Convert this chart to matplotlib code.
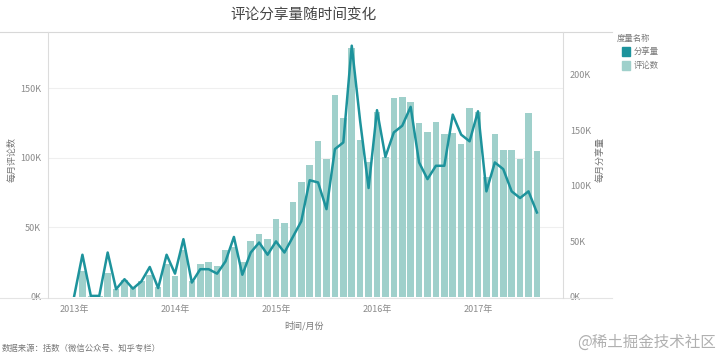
import matplotlib
matplotlib.use("Agg")
import matplotlib.pyplot as plt
from matplotlib.patches import Rectangle
from matplotlib.lines import Line2D
import numpy as np

plt.rcParams['font.family'] = ['Noto Sans CJK SC', 'DejaVu Sans']

# Monthly data, Jan 2013 .. Aug 2017 (index 0..55)
months = list(range(56))
comments_k = [0, 19, 1, 1, 17.5, 6, 12, 7, 11.5, 16, 7, 24, 15, 34,
              11.5, 24, 25, 22.5, 34, 36, 25, 40, 45, 42,
              56, 53, 68, 83, 95, 112, 99, 145, 129, 179, 113, 97,
              133, 101, 143, 144, 140, 125, 119, 126, 117, 118, 110, 136,
              133, 86, 117, 106, 106, 99, 132, 105]
shares_k = [0, 38, 1, 1, 40, 7, 16, 7.5, 14, 27, 8, 38, 21, 52,
            13, 25, 25, 21, 32, 54, 20, 40, 49, 38,
            50, 40, 54, 68, 105, 103, 79, 133, 139, 226, 158, 98,
            168, 126, 148, 154, 171, 121, 106, 118, 118, 164, 146, 140,
            167, 95, 121, 115, 95, 89, 95, 76]
year_ticks = [0, 12, 24, 36, 48]
year_labels = ['2013年', '2014年', '2015年', '2016年', '2017年']
left_ticks = [0, 50, 100, 150]
right_ticks = [0, 50, 100, 150, 200]

bar_color = '#9fd0cb'
line_color = '#1d939c'
tick_color = '#8a8a8a'

fig = plt.figure(figsize=(7.2, 3.56), dpi=100)
ax = fig.add_axes([48/720, 59/356, (563-48)/720, (297-32)/356])
ax2 = ax.twinx()

ax.bar(months, comments_k, width=0.78, color=bar_color, zorder=2)
ax2.plot(months, shares_k, color=line_color, lw=1.8, zorder=3)

ax.set_xlim(-3.09, 58.1)
ax.set_ylim(0, 190.6)
ax2.set_ylim(0, 238.3)

ax.set_yticks(left_ticks)
ax.set_yticklabels([f'{v}K' for v in left_ticks])
ax2.set_yticks(right_ticks)
ax2.set_yticklabels([f'{v}K' for v in right_ticks])
ax.set_xticks(year_ticks)
ax.set_xticklabels(year_labels)

for a in (ax, ax2):
    a.tick_params(axis='both', length=0, labelsize=6.5, labelcolor=tick_color, pad=5)
    for s in a.spines.values():
        s.set_visible(False)
ax.tick_params(axis='x', pad=6)

for v in left_ticks[1:]:
    ax.axhline(v, color='#efefef', lw=0.8, zorder=0)

ax.set_zorder(ax2.get_zorder() - 1)
ax2.patch.set_visible(False)

# frame lines
fig.add_artist(Line2D([0, 612/720], [1-32/356, 1-32/356], color='#d8d8d8', lw=0.8))
fig.add_artist(Line2D([0, 612/720], [1-298/356, 1-298/356], color='#e4e4e4', lw=0.8))
fig.add_artist(Line2D([48/720, 48/720], [1-298/356, 1-32/356], color='#dcdcdc', lw=0.8))
fig.add_artist(Line2D([563/720, 563/720], [1-298/356, 1-32/356], color='#dcdcdc', lw=0.8))

fig.text(304/720, 1-15/356, '评论分享量随时间变化', ha='center', va='center',
         fontsize=10.5, color='#444444')
fig.text(12/720, 1-160/356, '每月评论数', rotation=90, ha='center', va='center',
         fontsize=6.5, color='#777777')
fig.text(600/720, 1-160/356, '每月分享量', rotation=90, ha='center', va='center',
         fontsize=6.5, color='#777777')
fig.text(304/720, 1-326/356, '时间/月份', ha='center', va='center',
         fontsize=6.5, color='#777777')
fig.text(2/720, 1-348/356, '数据来源：括数（微信公众号、知乎专栏）', ha='left', va='center',
         fontsize=6, color='#777777')
fig.text(716/720, 1-342/356, '@稀土掘金技术社区', ha='right', va='center',
         fontsize=11.2, color='#b0b0b0')

# legend
fig.text(617/720, 1-38/356, '度量名称', ha='left', va='center', fontsize=6, color='#777777')
fig.add_artist(Rectangle((622/720, 1-56/356), 8/720, 9/356, color=line_color,
                         transform=fig.transFigure))
fig.text(634/720, 1-51.5/356, '分享量', ha='left', va='center', fontsize=6, color='#777777')
fig.add_artist(Rectangle((622/720, 1-70/356), 8/720, 9/356, color=bar_color,
                         transform=fig.transFigure))
fig.text(634/720, 1-65.5/356, '评论数', ha='left', va='center', fontsize=6, color='#777777')

fig.savefig('out.png', dpi=100)
